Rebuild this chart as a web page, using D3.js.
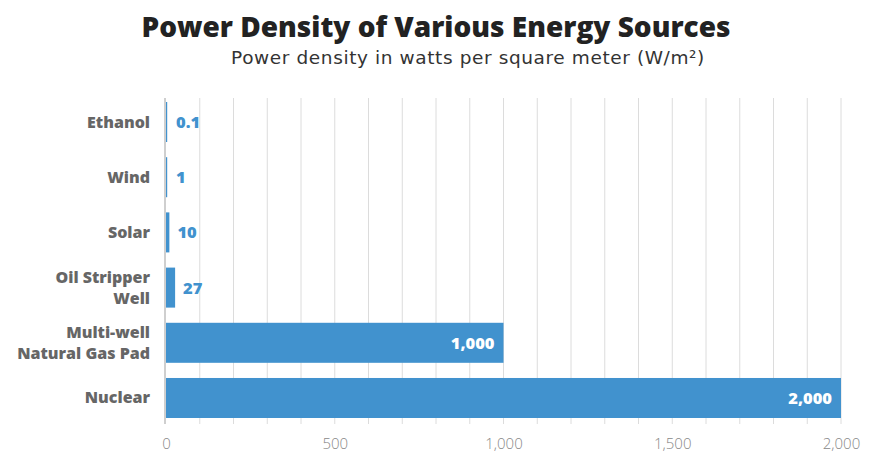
<!DOCTYPE html>
<html>
<head>
<meta charset="utf-8">
<script src="https://cdn.jsdelivr.net/npm/d3@7"></script>
<style>
  body { margin: 0; background: #fff; }
  svg { font-family: "Open Sans", sans-serif; }
</style>
</head>
<body>
<div id="chart"></div>
<script>
// data
var sources = ["Ethanol", "Wind", "Solar", "Oil Stripper\nWell", "Multi-well\nNatural Gas Pad", "Nuclear"];
var density = [0.1, 1, 10, 27, 1000, 2000];
var valueLabels = ["0.1", "1", "10", "27", "1,000", "2,000"];
var xTicks = [0, 500, 1000, 1500, 2000];

var width = 873, height = 454;
var margin = { top: 98, right: 32, bottom: 30, left: 166 };

var svg = d3.select("#chart").append("svg")
  .attr("width", width)
  .attr("height", height);

svg.append("text")
  .attr("x", 436).attr("y", 37)
  .attr("text-anchor", "middle")
  .attr("font-size", 28).attr("font-weight", 800)
  .attr("fill", "#222")
  .text("Power Density of Various Energy Sources");

svg.append("text")
  .attr("x", 468).attr("y", 64)
  .attr("text-anchor", "middle")
  .attr("font-family", "\"DejaVu Sans\", sans-serif")
  .attr("font-size", 18.5)
  .attr("letter-spacing", 0.6)
  .attr("fill", "#333")
  .text("Power density in watts per square meter (W/m²)");

var x = d3.scaleLinear().domain([0, 2000]).range([margin.left, 841]);
var y = d3.scaleBand().domain(sources).range([102, 418]).paddingInner(0.275).paddingOuter(0);

// grid lines every 100
var g = svg.append("g");
g.selectAll("line.grid")
  .data(d3.range(100, 2001, 100))
  .enter().append("line")
  .attr("class", "grid")
  .attr("x1", d => x(d)).attr("x2", d => x(d))
  .attr("y1", margin.top).attr("y2", 424)
  .attr("stroke", "#dcdcdc").attr("stroke-width", 1);

g.selectAll("rect")
  .data(sources)
  .enter().append("rect")
  .attr("x", x(0))
  .attr("y", d => y(d))
  .attr("width", (d, i) => Math.max(1.2, x(density[i]) - x(0)))
  .attr("height", y.bandwidth())
  .attr("fill", "#4192ce");

// left axis line
g.append("line")
  .attr("x1", x(0) - 1).attr("x2", x(0) - 1)
  .attr("y1", margin.top).attr("y2", 424)
  .attr("stroke", "#cfcfcf").attr("stroke-width", 2);

// value labels
g.selectAll("text.val")
  .data(sources)
  .enter().append("text")
  .attr("class", "val")
  .attr("x", (d, i) => density[i] > 500 ? x(density[i]) - 9 : Math.max(x(density[i]), x(0) + 2) + 8)
  .attr("y", d => y(d) + y.bandwidth() / 2 + 6)
  .attr("text-anchor", (d, i) => density[i] > 500 ? "end" : "start")
  .attr("font-size", 16.5).attr("font-weight", 800)
  .attr("fill", (d, i) => density[i] > 500 ? "#fff" : "#4192ce")
  .text((d, i) => valueLabels[i]);

// category labels
var cat = g.selectAll("text.cat")
  .data(sources)
  .enter().append("text")
  .attr("class", "cat")
  .attr("text-anchor", "end")
  .attr("font-size", 16).attr("font-weight", 800)
  .attr("fill", "#666");
cat.each(function (d) {
  var lines = d.split("\n");
  var cy = y(d) + y.bandwidth() / 2;
  var t = d3.select(this);
  lines.forEach(function (ln, k) {
    t.append("tspan")
      .attr("x", 150)
      .attr("y", cy + 5.5 + (k - (lines.length - 1) / 2) * 21)
      .text(ln);
  });
});

// x axis
var xAxis = d3.axisBottom(x).tickValues(xTicks).tickSize(0).tickFormat(d3.format(","));
var ax = svg.append("g").attr("transform", "translate(0,435)").call(xAxis);
ax.select(".domain").remove();
ax.selectAll("text")
  .attr("font-size", 15).attr("font-weight", 300).attr("fill", "#888")
  .attr("font-family", "\"Open Sans\", sans-serif");
</script>
</body>
</html>
